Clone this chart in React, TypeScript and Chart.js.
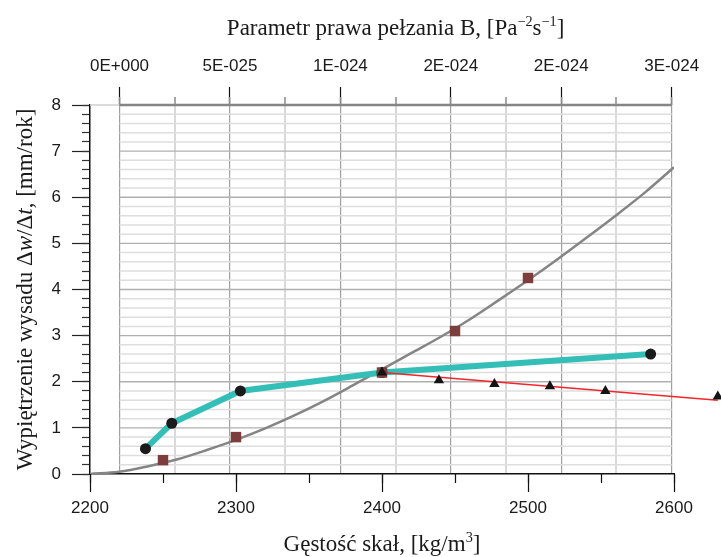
import React, { useEffect, useRef } from 'react';
import { Chart, registerables } from 'chart.js';

Chart.register(...registerables);

// ---- axis ticks ----
const densityTicks = [2200, 2300, 2400, 2500, 2600];
const densityMinorTicks = [2200, 2250, 2300, 2350, 2400, 2450, 2500, 2550, 2600];
const upliftTicks = [0, 1, 2, 3, 4, 5, 6, 7, 8];
const upliftMinorTicks: number[] = [];
for (let i = 0; i <= 40; i++) upliftMinorTicks.push(Math.round(i * 2) / 10);
// top axis in units of 1e-25 Pa^-2 s^-1
const creepTicks = [0, 5, 10, 15, 20, 25];
const creepTickLabels = ['0E+000', '5E-025', '1E-024', '2E-024', '2E-024', '3E-024'];
const creepMinorTicks = [0, 2.5, 5, 7.5, 10, 12.5, 15, 17.5, 20, 22.5, 25];

// ---- series ----
const grayDensity = [2200, 2220, 2240, 2260, 2280, 2300, 2320, 2340, 2360, 2380, 2400, 2420, 2440, 2460, 2480, 2500, 2520, 2540, 2560, 2580, 2600];
const grayUplift = [0, 0.05, 0.17, 0.32, 0.52, 0.74, 0.99, 1.27, 1.58, 1.92, 2.27, 2.62, 2.97, 3.35, 3.77, 4.2, 4.65, 5.12, 5.6, 6.1, 6.65];

const squareDensity = [2250, 2300, 2400, 2450, 2500];
const squareUplift = [0.3, 0.8, 2.2, 3.1, 4.25];

const tealDensity = [2238, 2256, 2303, 2400, 2584];
const tealUplift = [0.55, 1.1, 1.8, 2.2, 2.6];

const redDensity = [2400, 2630];
const redUplift = [2.2, 1.6];

const triangleDensity = [2400, 2439, 2477, 2515, 2553, 2630];
const triangleUplift = [2.2, 2.03, 1.95, 1.9, 1.8, 1.68];

const topTitle = [
  { t: 'Parametr prawa pełzania B, [Pa' },
  { t: '−2', sup: true },
  { t: 's' },
  { t: '−1', sup: true },
  { t: ']' },
];
const bottomTitle = [{ t: 'Gęstość skał, [kg/m' }, { t: '3', sup: true }, { t: ']' }];
const leftTitle = [
  { t: 'Wypiętrzenie wysadu Δ' },
  { t: 'w', italic: true },
  { t: '/Δ' },
  { t: 't', italic: true },
  { t: ', [mm/rok]' },
];

type Seg = { t: string; sup?: boolean; italic?: boolean };

const toXY = (xs: number[], ys: number[]) => xs.map((x, i) => ({ x, y: ys[i] }));

const TITLE_SIZE = 23;

function drawRich(ctx: CanvasRenderingContext2D, segs: Seg[], size: number) {
  const parts = segs.map((s) => {
    const fs = s.sup ? size * 0.62 : size;
    const font = `${s.italic ? 'italic ' : ''}${fs}px "Liberation Serif"`;
    ctx.font = font;
    return { ...s, font, w: ctx.measureText(s.t).width, dy: s.sup ? -size * 0.4 : 0 };
  });
  const total = parts.reduce((a, p) => a + p.w, 0);
  let x = -total / 2;
  for (const p of parts) {
    ctx.font = p.font;
    ctx.fillText(p.t, x, p.dy);
    x += p.w;
  }
}

const gridPlugin = {
  id: 'hgrid',
  beforeDatasetsDraw(chart: any) {
    const ctx = chart.ctx as CanvasRenderingContext2D;
    const y = chart.scales.y;
    const top = chart.scales.xTop;
    const x0 = top.getPixelForValue(creepTicks[0]);
    const x1 = top.getPixelForValue(creepTicks[creepTicks.length - 1]);
    ctx.save();
    for (const v of upliftMinorTicks) {
      if (v === 0) continue;
      const py = y.getPixelForValue(v);
      const major = Math.abs(v - Math.round(v)) < 1e-9;
      ctx.beginPath();
      if (v === 8) {
        ctx.strokeStyle = '#cfcfcf';
        ctx.lineWidth = 1.5;
        ctx.moveTo(chart.chartArea.left, py);
        ctx.lineTo(x0, py);
        ctx.stroke();
        ctx.beginPath();
        ctx.strokeStyle = '#858585';
        ctx.lineWidth = 2.4;
      } else if (major) {
        ctx.strokeStyle = '#b0b0b0';
        ctx.lineWidth = 1.3;
      } else {
        ctx.strokeStyle = '#dedede';
        ctx.lineWidth = 1.5;
      }
      ctx.moveTo(x0, py);
      ctx.lineTo(x1, py);
      ctx.stroke();
    }
    ctx.restore();
  },
};

// draws the library's own point elements that lie outside the chart area (clip: false datasets)
const outsidePointsPlugin = {
  id: 'outsidePoints',
  afterDatasetsDraw(chart: any) {
    const ctx = chart.ctx as CanvasRenderingContext2D;
    const area = chart.chartArea;
    const full = { left: 0, top: 0, right: chart.width, bottom: chart.height };
    chart.data.datasets.forEach((ds: any, i: number) => {
      if (ds.clip !== false || ds.showLine !== false) return;
      const meta = chart.getDatasetMeta(i);
      meta.data.forEach((el: any) => {
        if (el.x > area.right || el.x < area.left) el.draw(ctx, full);
      });
    });
  },
};

const titlePlugin = {
  id: 'richTitles',
  afterDraw(chart: any) {
    const ctx = chart.ctx as CanvasRenderingContext2D;
    const area = chart.chartArea;
    const top = chart.scales.xTop;
    ctx.save();
    ctx.fillStyle = '#1a1a1a';
    ctx.textAlign = 'left';
    ctx.textBaseline = 'alphabetic';
    ctx.save();
    ctx.translate(top.getPixelForValue(12.5), 35);
    drawRich(ctx, topTitle, TITLE_SIZE);
    ctx.restore();
    ctx.save();
    ctx.translate((area.left + area.right) / 2, 551);
    drawRich(ctx, bottomTitle, TITLE_SIZE);
    ctx.restore();
    ctx.save();
    ctx.translate(32, (area.top + area.bottom) / 2);
    ctx.rotate(-Math.PI / 2);
    drawRich(ctx, leftTitle, TITLE_SIZE);
    ctx.restore();
    ctx.restore();
  },
};

const tickFont = { family: '"Liberation Sans", Arial, sans-serif', size: 17 };

export default function App() {
  const ref = useRef<HTMLCanvasElement>(null);
  useEffect(() => {
    document.body.style.margin = '0';
    const canvas = ref.current!;
    const chart = new Chart(canvas, {
      type: 'line',
      data: {
        datasets: [
          {
            label: 'triangles',
            data: toXY(triangleDensity, triangleUplift),
            showLine: false,
            pointStyle: 'triangle',
            pointRadius: 6,
            pointBackgroundColor: '#141414',
            pointBorderColor: '#141414',
            pointBorderWidth: 0,
            clip: false,
            order: 1,
          } as any,
          {
            label: 'squares',
            data: toXY(squareDensity, squareUplift),
            showLine: false,
            pointStyle: 'rect',
            pointRadius: 7.4,
            pointBackgroundColor: '#7d3d3d',
            pointBorderColor: '#7d3d3d',
            pointBorderWidth: 0,
            order: 2,
          },
          {
            label: 'red',
            data: toXY(redDensity, redUplift),
            borderColor: '#f2262a',
            borderWidth: 1.5,
            pointRadius: 0,
            tension: 0,
            clip: false,
            order: 3,
          } as any,
          {
            label: 'teal',
            data: toXY(tealDensity, tealUplift),
            borderColor: '#33bfb7',
            borderWidth: 6,
            pointRadius: 5.5,
            pointBackgroundColor: '#1b1b1b',
            pointBorderColor: '#1b1b1b',
            pointBorderWidth: 0,
            tension: 0,
            order: 4,
          },
          {
            label: 'gray',
            data: toXY(grayDensity, grayUplift),
            borderColor: '#858585',
            borderWidth: 2.5,
            pointRadius: 0,
            cubicInterpolationMode: 'monotone',
            order: 5,
          },
        ],
      },
      options: {
        responsive: false,
        animation: false,
        layout: { padding: { left: 0, right: 47, top: 0, bottom: 0 } },
        plugins: { legend: { display: false }, tooltip: { enabled: false } },
        scales: {
          x: {
            type: 'linear',
            position: 'bottom',
            min: 2200,
            max: 2600,
            weight: 1,
            afterBuildTicks: (s: any) => {
              s.ticks = densityTicks.map((v) => ({ value: v }));
            },
            afterFit: (s: any) => {
              s.height = 83;
            },
            ticks: {
              font: tickFont,
              color: '#1a1a1a',
              padding: 6,
              maxRotation: 0,
              autoSkip: false,
              callback: (v: any) => String(v),
            },
            grid: { drawOnChartArea: false, drawTicks: true, tickLength: 18, tickColor: '#111', tickWidth: 1.2 },
            border: { display: true, color: '#111', width: 1.5 },
          },
          xMinor: {
            type: 'linear',
            position: 'bottom',
            min: 2200,
            max: 2600,
            weight: 0,
            afterBuildTicks: (s: any) => {
              s.ticks = densityMinorTicks.map((v) => ({ value: v }));
            },
            afterFit: (s: any) => {
              s.height = 0;
            },
            ticks: { display: false },
            grid: { drawOnChartArea: false, drawTicks: true, tickLength: 9, tickColor: '#111', tickWidth: 1.2 },
            border: { display: false },
          },
          xTop: {
            type: 'linear',
            position: 'top',
            min: -1.3355,
            max: 25.104,
            weight: 1,
            afterBuildTicks: (s: any) => {
              s.ticks = creepTicks.map((v) => ({ value: v }));
            },
            afterFit: (s: any) => {
              s.height = 105;
            },
            ticks: {
              font: tickFont,
              color: '#1a1a1a',
              padding: 10,
              maxRotation: 0,
              autoSkip: false,
              callback: (_v: any, i: number) => creepTickLabels[i],
            },
            grid: { drawOnChartArea: false, drawTicks: true, tickLength: 18, tickColor: '#111', tickWidth: 1.2 },
            border: { display: false },
          },
          xTopMinor: {
            type: 'linear',
            position: 'top',
            min: -1.3355,
            max: 25.104,
            weight: 0,
            afterBuildTicks: (s: any) => {
              s.ticks = creepMinorTicks.map((v) => ({ value: v }));
            },
            afterFit: (s: any) => {
              s.height = 0;
            },
            ticks: { display: false },
            grid: {
              drawOnChartArea: true,
              drawTicks: true,
              tickLength: 8,
              tickColor: '#8a8a8a',
              tickWidth: 1.5,
              color: (c: any) => (c.index % 2 === 0 ? '#a0a0a0' : '#d9d9d9'),
              lineWidth: (c: any) => (c.index % 2 === 0 ? 1.2 : 2),
            },
            border: { display: false },
          },
          y: {
            type: 'linear',
            position: 'left',
            min: 0,
            max: 8,
            weight: 1,
            afterBuildTicks: (s: any) => {
              s.ticks = upliftTicks.map((v) => ({ value: v }));
            },
            afterFit: (s: any) => {
              s.width = 90;
            },
            ticks: {
              font: tickFont,
              color: '#1a1a1a',
              padding: 11,
              autoSkip: false,
              callback: (v: any) => String(v),
            },
            grid: { drawOnChartArea: false, drawTicks: true, tickLength: 18, tickColor: '#222', tickWidth: 1.2 },
            border: { display: true, color: '#111', width: 1.5 },
          },
          yMinor: {
            type: 'linear',
            position: 'left',
            min: 0,
            max: 8,
            weight: 0,
            afterBuildTicks: (s: any) => {
              s.ticks = upliftMinorTicks.map((v) => ({ value: v }));
            },
            afterFit: (s: any) => {
              s.width = 0;
            },
            ticks: { display: false },
            grid: { drawOnChartArea: false, drawTicks: true, tickLength: 8, tickColor: '#333', tickWidth: 1.2 },
            border: { display: false },
          },
        },
      } as any,
      plugins: [gridPlugin, outsidePointsPlugin, titlePlugin],
    });
    return () => chart.destroy();
  }, []);
  return (
    <div style={{ position: 'absolute', left: 0, top: 0, width: 721, height: 557, background: '#fff' }}>
      <canvas ref={ref} width={721} height={557} style={{ width: 721, height: 557, display: 'block' }} />
    </div>
  );
}
